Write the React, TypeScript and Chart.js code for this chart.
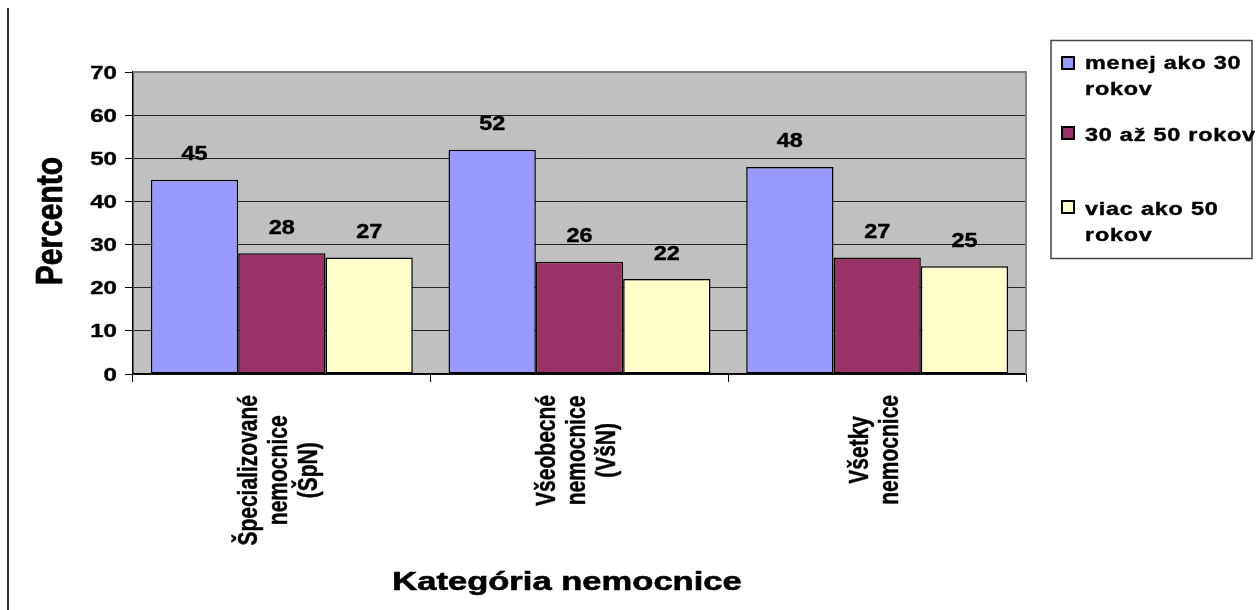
import React, { useEffect, useRef } from 'react';
import { Chart, registerables } from 'chart.js';

Chart.register(...registerables);

const categories: string[][] = [
  ['Špecializované', 'nemocnice', '(ŠpN)'],
  ['Všeobecné', 'nemocnice', '(VšN)'],
  ['Všetky', 'nemocnice'],
];
const seriesNames = ['menej ako 30 rokov', '30 až 50 rokov', 'viac ako 50 rokov'];
const legendLines: string[][] = [['menej ako 30', 'rokov'], ['30 až 50 rokov'], ['viac ako 50', 'rokov']];
const under30 = [45, 52, 48];
const from30to50 = [28, 26, 27];
const over50 = [27, 22, 25];
const yTicks = [0, 10, 20, 30, 40, 50, 60, 70];
const yTitle = 'Percento';
const xTitle = 'Kategória nemocnice';

const colors = ['#9999FF', '#993366', '#FFFFCC'];
const FONT = '"Liberation Sans", Arial, sans-serif';

function sText(
  ctx: CanvasRenderingContext2D,
  text: string,
  x: number,
  y: number,
  align: CanvasTextAlign,
  size: number,
  sx: number,
  rot = 0,
  weight = 0.4
) {
  ctx.save();
  ctx.translate(x, y);
  ctx.scale(sx, 1);
  if (rot) ctx.rotate(rot);
  ctx.font = `bold ${size}px ${FONT}`;
  ctx.fillStyle = '#000';
  ctx.strokeStyle = '#000';
  ctx.lineWidth = weight;
  ctx.lineJoin = 'round';
  ctx.textAlign = align;
  ctx.textBaseline = 'alphabetic';
  ctx.fillText(text, 0, 0);
  if (weight > 0) ctx.strokeText(text, 0, 0);
  ctx.restore();
}

const decorPlugin = {
  id: 'decor',
  beforeDraw(chart: any) {
    const { ctx, chartArea: a } = chart;
    ctx.save();
    ctx.fillStyle = '#C0C0C0';
    ctx.fillRect(a.left, a.top, a.right - a.left, a.bottom - a.top);
    ctx.restore();
  },
  beforeDatasetsDraw(chart: any) {
    const { ctx, chartArea: a } = chart;
    ctx.save();
    ctx.strokeStyle = '#808080';
    ctx.lineWidth = 2;
    ctx.beginPath();
    ctx.moveTo(a.left, a.top);
    ctx.lineTo(a.right, a.top);
    ctx.lineTo(a.right, a.bottom);
    ctx.stroke();
    ctx.restore();
  },
  afterDraw(chart: any) {
    const { ctx, chartArea: a } = chart;
    const xs = chart.scales.x;
    const ys = chart.scales.y;

    // left frame line
    ctx.save();
    ctx.strokeStyle = '#333';
    ctx.lineWidth = 2;
    ctx.beginPath();
    ctx.moveTo(8, 8);
    ctx.lineTo(8, 610);
    ctx.stroke();
    ctx.restore();

    // y tick labels
    yTicks.forEach((v) => {
      const y = ys.getPixelForValue(v);
      sText(ctx, String(v), a.left - 16, y + 6.5, 'right', 18.5, 1.3);
    });

    // y title
    sText(ctx, yTitle, 62, (a.top + a.bottom) / 2 - 2, 'center', 30, 1.22, -Math.PI / 2, 0.6);

    // x labels
    categories.forEach((lines, i) => {
      const cx = xs.getPixelForValue(i);
      ctx.save();
      ctx.font = `bold 21px ${FONT}`;
      const maxLen = Math.max(...lines.map((l) => ctx.measureText(l).width));
      ctx.restore();
      const cy = a.bottom + 21 + maxLen / 2;
      const n = lines.length;
      lines.forEach((line, j) => {
        const bx = cx + 5.5 + (j - (n - 1) / 2) * 30;
        sText(ctx, line, bx, cy, 'center', 21, 1.3, -Math.PI / 2, 0.35);
      });
    });

    // x title
    sText(ctx, xTitle, 567, 590, 'center', 25.6, 1.35, 0, 0.6);

    // data labels
    chart.data.datasets.forEach((ds: any, di: number) => {
      const meta = chart.getDatasetMeta(di);
      meta.data.forEach((bar: any, i: number) => {
        sText(ctx, String(ds.data[i]), bar.x, bar.y - 19.5, 'center', 19.5, 1.2);
      });
    });

    // legend
    ctx.save();
    ctx.strokeStyle = '#444';
    ctx.lineWidth = 1.5;
    ctx.strokeRect(1051, 40.5, 201, 218);
    ctx.restore();
    const squareCenters = [63, 133, 207];
    const baselines = [[69, 95], [141], [215, 241]];
    legendLines.forEach((lines, k) => {
      ctx.save();
      ctx.fillStyle = colors[k];
      ctx.strokeStyle = '#000';
      ctx.lineWidth = 2;
      ctx.fillRect(1062, squareCenters[k] - 6, 12, 12);
      ctx.strokeRect(1062, squareCenters[k] - 6, 12, 12);
      ctx.restore();
      lines.forEach((line, j) => {
        ctx.save();
        (ctx as any).letterSpacing = '0.6px';
        sText(ctx, line, 1085, baselines[k][j], 'left', 18, 1.3);
        ctx.restore();
      });
    });
  },
};

export default function App() {
  const ref = useRef<HTMLCanvasElement | null>(null);
  useEffect(() => {
    if (!ref.current) return;
    const chart = new Chart(ref.current, {
      type: 'bar',
      data: {
        labels: categories.map((c) => c.join(' ')),
        datasets: [
          { label: seriesNames[0], data: under30, backgroundColor: colors[0] },
          { label: seriesNames[1], data: from30to50, backgroundColor: colors[1] },
          { label: seriesNames[2], data: over50, backgroundColor: colors[2] },
        ].map((d) => ({
          ...d,
          borderColor: '#000',
          borderWidth: 1.5,
          borderSkipped: false,
          categoryPercentage: 0.88,
          barPercentage: 1,
        })),
      },
      options: {
        responsive: false,
        animation: false,
        devicePixelRatio: 1,
        layout: { padding: { top: 72, right: 230, left: 0, bottom: 0 } },
        plugins: { legend: { display: false }, tooltip: { enabled: false }, title: { display: false } },
        scales: {
          x: {
            offset: true,
            ticks: { display: false },
            grid: {
              display: true,
              offset: true,
              drawOnChartArea: false,
              drawTicks: true,
              tickLength: 8,
              color: '#000',
            },
            border: { display: true, color: '#000', width: 1.5 },
            afterFit: (s: any) => {
              s.height = 236;
            },
          },
          y: {
            min: 0,
            max: 70,
            ticks: { display: false, stepSize: 10 },
            grid: {
              display: true,
              drawTicks: true,
              tickLength: 8,
              color: (c: any) => (c.tick && c.tick.value === 70 ? '#808080' : '#222'),
              tickColor: '#000',
              lineWidth: 1,
            },
            border: { display: true, color: '#000', width: 1.5 },
            afterFit: (s: any) => {
              s.width = 133;
            },
          },
        },
      },
      plugins: [decorPlugin],
    });
    return () => chart.destroy();
  }, []);
  return (
    <div style={{ position: 'fixed', left: 0, top: 0, width: 1256, height: 610, background: '#fff' }}>
      <canvas ref={ref} width={1256} height={610} style={{ display: 'block' }} />
    </div>
  );
}
